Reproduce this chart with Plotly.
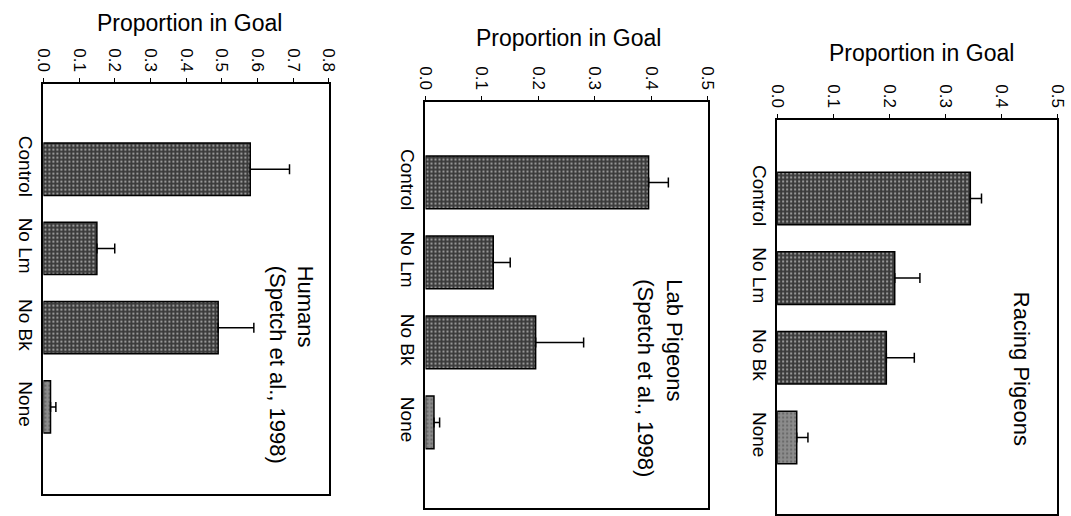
import plotly.graph_objects as go

categories = ["Control", "No Lm", "No Bk", "None"]

humans = [0.58, 0.15, 0.49, 0.02]
humans_err = [0.11, 0.05, 0.10, 0.015]

lab_pigeons = [0.395, 0.12, 0.195, 0.015]
lab_pigeons_err = [0.035, 0.03, 0.085, 0.01]

racing_pigeons = [0.345, 0.21, 0.195, 0.035]
racing_pigeons_err = [0.02, 0.045, 0.05, 0.02]

panel_labels = ["Humans<br>(Spetch et al., 1998)",
                "Lab Pigeons<br>(Spetch et al., 1998)",
                "Racing Pigeons"]
value_ranges = [[0, 0.8], [0, 0.5], [0, 0.5]]

FONT = "Liberation Sans, Arial, sans-serif"
bar_colors = ["#3a3a3a", "#3a3a3a", "#3a3a3a", "#8c8c8c"]
W, H = 1071, 516

panels = [
    dict(vals=humans, err=humans_err, xdom=[34/W, 324.5/W], ydom=[1-496/H, 1-84/H], yr=[4.1, -1.08],
         lab_x=287/W, lab_y=1-366/H, title_x=183/W, title_y=1-23/H),
    dict(vals=lab_pigeons, err=lab_pigeons_err, xdom=[423/W, 710.5/W], ydom=[1-510/H, 1-102/H], yr=[4.07, -1.01],
         lab_x=662/W, lab_y=1-380/H, title_x=569/W, title_y=1-38/H),
    dict(vals=racing_pigeons, err=racing_pigeons_err, xdom=[781/W, 1066/W], ydom=[0, 1-120/H], yr=[3.96, -0.99],
         lab_x=1030/W, lab_y=1-370/H, title_x=928/W, title_y=1-53/H),
]

fig = go.Figure()
layout = dict(
    width=W, height=H, margin=dict(l=0, r=0, t=0, b=0),
    paper_bgcolor="white", plot_bgcolor="white", showlegend=False,
    font=dict(family=FONT, color="black"),
    annotations=[],
)

for i, p in enumerate(panels):
    n = "" if i == 0 else str(i + 1)
    fig.add_trace(go.Bar(
        y=categories, x=p["vals"], orientation="h", width=0.66,
        xaxis="x" + n, yaxis="y" + n,
        marker=dict(color=bar_colors, line=dict(color="black", width=1.5),
                    pattern=dict(shape=".", fgcolor="#cfcfcf", size=4, solidity=0.25, fillmode="overlay")),
        error_x=dict(type="data", array=p["err"], arrayminus=[0]*4, symmetric=False,
                     color="black", thickness=1.5, width=5),
    ))
    layout["xaxis" + n] = dict(
        domain=p["xdom"], anchor="y" + n, side="top", range=value_ranges[i],
        dtick=0.1, tickformat=".1f", tickangle=90, ticks="outside", ticklen=4,
        tickcolor="black", showline=True, linecolor="black", linewidth=1.5,
        mirror=True, showgrid=False, zeroline=False,
        tickfont=dict(size=17, family=FONT, color="black"),
    )
    layout["yaxis" + n] = dict(
        domain=p["ydom"], anchor="x" + n, type="category",
        categoryorder="array", categoryarray=categories, range=p["yr"],
        tickangle=90, ticks="", showline=True, linecolor="black", linewidth=1.5,
        mirror=True, showgrid=False, zeroline=False,
        tickfont=dict(size=19, family=FONT, color="black"),
    )
    layout["annotations"].append(dict(
        text="Proportion in Goal", xref="paper", yref="paper",
        x=p["title_x"], y=p["title_y"], xanchor="center", yanchor="middle",
        showarrow=False, font=dict(size=23, family=FONT, color="black"),
    ))
    layout["annotations"].append(dict(
        text=panel_labels[i], xref="paper", yref="paper",
        x=p["lab_x"], y=p["lab_y"], xanchor="center", yanchor="middle",
        textangle=90, align="left", showarrow=False,
        font=dict(size=22, family=FONT, color="black"),
    ))

fig.update_layout(**layout)
fig.write_html(
    "out.html",
    config={"displayModeBar": False},
    post_script="document.documentElement.style.margin='0';document.body.style.margin='0';"
                "document.body.style.overflow='hidden';",
)
